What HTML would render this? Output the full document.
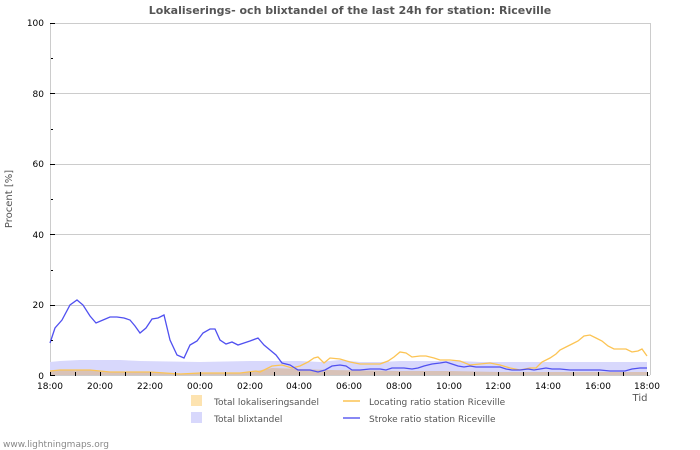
<!DOCTYPE html>
<html><head><meta charset="utf-8"><style>
html,body{margin:0;padding:0;background:#fff;}
svg{display:block;font-family:"DejaVu Sans","Liberation Sans",sans-serif;}
</style></head><body>
<svg width="700" height="450" viewBox="0 0 700 450" xmlns="http://www.w3.org/2000/svg">
<rect width="700" height="450" fill="#fff"/>
<text x="350" y="14" text-anchor="middle" font-size="11" font-weight="bold" fill="#555">Lokaliserings- och blixtandel of the last 24h for station: Riceville</text>
<g stroke="#ccc" stroke-width="1">
<line x1="50" y1="23.5" x2="650" y2="23.5"/>
<line x1="50" y1="93.5" x2="650" y2="93.5"/>
<line x1="50" y1="164.5" x2="650" y2="164.5"/>
<line x1="50" y1="234.5" x2="650" y2="234.5"/>
<line x1="50" y1="305.5" x2="650" y2="305.5"/>
<line x1="650.5" y1="23" x2="650.5" y2="375"/>
<line x1="50.5" y1="23" x2="50.5" y2="375"/>
</g>
<!-- area fills -->
<polygon fill="#d8d8fc" points="50,362 60,361 80,360 120,360 140,361 200,362 250,361 270,361 300,361 320,362 340,360 360,362 380,362 400,361 430,361 460,361 480,362 520,362 540,362 560,362 600,362 647,362 647,375 50,375"/>
<polygon fill="#d8c2b8" points="50,371 60,370 90,370 110,372 150,372 180,374 200,373 240,373 256,371 272,368 300,369 330,370 400,371 450,371 500,372 520,372 560,372 600,372 647,372 647,375 50,375"/>
<polyline fill="none" stroke="#fcc454" stroke-width="1.3" points="50,371 60,370 90,370 110,372 150,372 180,374 200,373 240,373 256,371 260,372 272,366 282,365 292,368 300,366 308,362 314,358 318,357 324,363 330,358 340,359 350,362 360,364 370,364 380,364 388,361 394,357 400,352 406,353 412,357 420,356 426,356 434,358 440,360 450,360 460,361 470,365 480,364 490,363 500,365 510,368 520,370 530,368 536,368 542,362 550,358 556,354 560,350 566,347 572,344 578,341 584,336 590,335 596,338 602,341 608,346 614,349 620,349 626,349 632,352 638,351 642,349 647,356"/>
<polyline fill="none" stroke="#5050f0" stroke-width="1.3" points="50,343 55,328 62,320 70,305 77,300 83,305 90,316 96,323 103,320 110,317 117,317 124,318 130,320 135,326 140,333 146,328 152,319 158,318 164,315 170,340 177,355 184,358 190,345 197,341 203,333 210,329 215,329 220,340 226,344 232,342 238,345 244,343 250,341 258,338 264,345 270,350 276,355 282,363 290,365 298,370 310,370 318,372 325,370 332,366 340,365 346,366 352,370 360,370 370,369 380,369 386,370 392,368 398,368 404,368 412,369 418,368 424,366 432,364 440,363 446,362 452,364 458,366 464,367 470,366 476,367 482,367 490,367 500,367 506,369 512,370 520,370 528,369 534,370 540,369 546,368 552,369 560,369 570,370 580,370 590,370 600,370 610,371 625,371 632,369 640,368 647,368"/>
<line x1="50" y1="375.5" x2="650" y2="375.5" stroke="#ccc"/>
<g stroke="#000" stroke-width="1">
<line x1="50" y1="375.5" x2="55" y2="375.5"/><line x1="50" y1="305.5" x2="55" y2="305.5"/><line x1="50" y1="234.5" x2="55" y2="234.5"/><line x1="50" y1="164.5" x2="55" y2="164.5"/><line x1="50" y1="93.5" x2="55" y2="93.5"/><line x1="50" y1="23.5" x2="55" y2="23.5"/>
<line x1="51" y1="340.5" x2="53" y2="340.5"/><line x1="51" y1="270.5" x2="53" y2="270.5"/><line x1="51" y1="199.5" x2="53" y2="199.5"/><line x1="51" y1="129.5" x2="53" y2="129.5"/><line x1="51" y1="58.5" x2="53" y2="58.5"/>
</g>
<g stroke="#000" stroke-width="1" id="xt">
<path d="M50.5 372v4M75.5 372v4M100.5 372v4M125.5 372v4M150.5 372v4M175.5 372v4M200.5 372v4M225.5 372v4M250.5 372v4M274.5 372v4M299.5 372v4M324.5 372v4M349.5 372v4M374.5 372v4M399.5 372v4M424.5 372v4M449.5 372v4M474.5 372v4M498.5 372v4M523.5 372v4M548.5 372v4M573.5 372v4M598.5 372v4M623.5 372v4M647.5 372v4"/>
</g>
<g font-size="9" fill="#000" text-anchor="end">
<text x="44" y="26">100</text><text x="44" y="97">80</text><text x="44" y="167">60</text><text x="44" y="238">40</text><text x="44" y="308">20</text><text x="44" y="379">0</text>
</g>
<g font-size="9" fill="#000" text-anchor="middle">
<text x="50" y="389">18:00</text><text x="100" y="389">20:00</text><text x="150" y="389">22:00</text><text x="200" y="389">00:00</text><text x="250" y="389">02:00</text><text x="299" y="389">04:00</text><text x="349" y="389">06:00</text><text x="399" y="389">08:00</text><text x="449" y="389">10:00</text><text x="498" y="389">12:00</text><text x="548" y="389">14:00</text><text x="598" y="389">16:00</text><text x="647" y="389">18:00</text>
</g>
<text x="640" y="401" font-size="10" fill="#555" text-anchor="middle">Tid</text>
<text x="12" y="199" font-size="10" fill="#555" text-anchor="middle" transform="rotate(-90 12 199)">Procent   [%]</text>
<rect x="191" y="395" width="11" height="11" fill="#fde3b0"/>
<rect x="191" y="412" width="11" height="11" fill="#d8d8fc"/>
<line x1="343" y1="401" x2="360" y2="401" stroke="#fcc454" stroke-width="1.5"/>
<line x1="343" y1="418" x2="360" y2="418" stroke="#6060f0" stroke-width="1.5"/>
<g font-size="9" fill="#555">
<text x="214" y="405">Total lokaliseringsandel</text>
<text x="214" y="422">Total blixtandel</text>
<text x="369" y="405">Locating ratio station Riceville</text>
<text x="369" y="422">Stroke ratio station Riceville</text>
<text x="3" y="447" fill="#888">www.lightningmaps.org</text>
</g>
</svg>
</body></html>
